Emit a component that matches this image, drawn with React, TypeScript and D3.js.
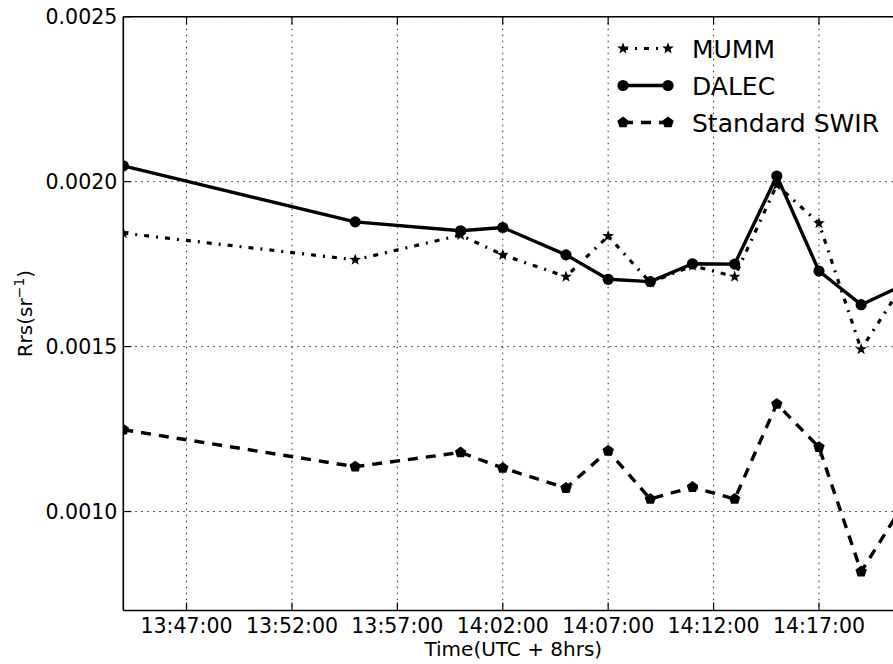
import React from "react";
import * as d3 from "d3";

// Sample times (UTC + 8hrs)
const times = [
  "13:44:00", "13:55:00", "14:00:00", "14:02:00", "14:05:00", "14:07:00", "14:09:00",
  "14:11:00", "14:13:00", "14:15:00", "14:17:00", "14:19:00", "14:21:00",
];

// Remote-sensing reflectance, sr^-1
const mumm = [
  0.001844, 0.001763, 0.001838, 0.001778, 0.001712, 0.001835, 0.001694,
  0.001745, 0.001712, 0.00199, 0.001874, 0.001492, 0.001689,
];
const dalec = [
  0.002048, 0.001878, 0.001851, 0.001861, 0.001778, 0.001704, 0.001697,
  0.001751, 0.00175, 0.002017, 0.001729, 0.001627, 0.001686,
];
const swir = [
  0.001248, 0.001136, 0.001179, 0.001132, 0.001071, 0.001184, 0.001038,
  0.001074, 0.001038, 0.001326, 0.001195, 0.000818, 0.001021,
];

const xTickLabels = ["13:47:00", "13:52:00", "13:57:00", "14:02:00", "14:07:00", "14:12:00", "14:17:00"];
const yTickValues = [0.001, 0.0015, 0.002, 0.0025];
const xDomain = ["13:44:00", "14:21:00"];
const yDomain = [0.0007, 0.0025];

const W = 893;
const H = 664;
const L = 123.3;
const R = 903.3;
const T = 16.7;
const B = 610.5;
const FONT = "'DejaVu Sans', sans-serif";

const parse = d3.timeParse("%H:%M:%S");

function polygonPath(n: number, rOut: number, rIn: number | null): string {
  const pts: [number, number][] = [];
  const count = rIn === null ? n : n * 2;
  for (let i = 0; i < count; i++) {
    const r = rIn === null ? rOut : i % 2 === 0 ? rOut : rIn;
    const a = -Math.PI / 2 + (i * 2 * Math.PI) / count;
    pts.push([r * Math.cos(a), r * Math.sin(a)]);
  }
  return "M" + pts.map((p) => p[0].toFixed(2) + "," + p[1].toFixed(2)).join("L") + "Z";
}

const starPath = polygonPath(5, 6.2, 2.5);
const pentPath = polygonPath(5, 6, null);

type Series = {
  name: string;
  values: number[];
  dash: string;
  width: number;
  marker: "star" | "circle" | "pent";
};

const series: Series[] = [
  { name: "MUMM", values: mumm, dash: "5,7,2,7", width: 3.2, marker: "star" },
  { name: "DALEC", values: dalec, dash: "none", width: 3.4, marker: "circle" },
  { name: "Standard SWIR", values: swir, dash: "10,8", width: 3.4, marker: "pent" },
];

function Marker({ kind, x, y }: { kind: string; x: number; y: number }) {
  if (kind === "circle") return <circle cx={x} cy={y} r={5.6} fill="#000" />;
  const d = kind === "star" ? starPath : pentPath;
  return <path d={d} transform={`translate(${x},${y})`} fill="#000" />;
}

export default function App() {
  const x = d3.scaleTime().domain(xDomain.map((s) => parse(s) as Date)).range([L, R]);
  const y = d3.scaleLinear().domain(yDomain).range([B, T]);
  const dates = times.map((s) => parse(s) as Date);

  const line = d3
    .line<number>()
    .x((_, i) => x(dates[i]))
    .y((v) => y(v));

  const xTicks = xTickLabels.map((s) => ({ label: s, px: x(parse(s) as Date) }));
  const fmt = d3.format(".4f");

  const legendX0 = 623;
  const legendX1 = 668;
  const legendRows = [48.5, 85.5, 122.5];

  return (
    <svg
      width={W}
      height={H}
      style={{ position: "absolute", left: 0, top: 0, background: "#fff" }}
      fontFamily={FONT}
    >
      <defs>
        <clipPath id="plot-area">
          <rect x={L} y={T} width={R - L} height={B - T} />
        </clipPath>
      </defs>
      <rect x={0} y={0} width={W} height={H} fill="#fff" />

      {/* grid */}
      <g stroke="#000" strokeWidth={1} strokeDasharray="1.5,4.5" opacity={0.85}>
        {xTicks.map((t) => (
          <line key={t.label} x1={t.px} x2={t.px} y1={T} y2={B} />
        ))}
        {yTickValues.map((v) => (
          <line key={v} x1={L} x2={R} y1={y(v)} y2={y(v)} />
        ))}
      </g>

      {/* data */}
      <g clipPath="url(#plot-area)">
        {series.map((s) => (
          <g key={s.name}>
            <path
              d={line(s.values) || ""}
              fill="none"
              stroke="#000"
              strokeWidth={s.width}
              strokeDasharray={s.dash}
              strokeLinejoin="round"
            />
            {s.values.map((v, i) => (
              <Marker key={i} kind={s.marker} x={x(dates[i])} y={y(v)} />
            ))}
          </g>
        ))}
      </g>

      {/* frame */}
      <g stroke="#000" strokeWidth={1.6} fill="none">
        <line x1={L} x2={R} y1={T} y2={T} />
        <line x1={L} x2={R} y1={B} y2={B} />
        <line x1={L} x2={L} y1={T} y2={B} />
        <line x1={R} x2={R} y1={T} y2={B} />
      </g>

      {/* ticks */}
      <g stroke="#000" strokeWidth={1.2}>
        {xTicks.map((t) => (
          <g key={t.label}>
            <line x1={t.px} x2={t.px} y1={B} y2={B - 8} />
            <line x1={t.px} x2={t.px} y1={T} y2={T + 8} />
          </g>
        ))}
        {yTickValues.map((v) => (
          <line key={v} x1={L} x2={L + 8} y1={y(v)} y2={y(v)} />
        ))}
      </g>

      {/* tick labels */}
      <g fontSize={20.5} fill="#000">
        {xTicks.map((t) => (
          <text key={t.label} x={t.px} y={633} textAnchor="middle">
            {t.label}
          </text>
        ))}
        {yTickValues.map((v) => (
          <text key={v} x={L - 6} y={y(v)} dy="0.36em" textAnchor="end">
            {fmt(v)}
          </text>
        ))}
      </g>

      {/* axis titles */}
      <text x={(L + R) / 2} y={656} textAnchor="middle" fontSize={20} fill="#000">
        Time(UTC + 8hrs)
      </text>
      <text
        transform={`translate(31.5,${(T + B) / 2}) rotate(-90)`}
        textAnchor="middle"
        fontSize={20}
        fill="#000"
      >
        Rrs(sr
        <tspan fontSize={14} dy={-8}>
          −1
        </tspan>
        <tspan dy={8}>)</tspan>
      </text>

      {/* legend */}
      <g>
        {series.map((s, i) => {
          const ly = legendRows[i];
          return (
            <g key={s.name}>
              <line
                x1={legendX0}
                x2={legendX1}
                y1={ly}
                y2={ly}
                stroke="#000"
                strokeWidth={s.width}
                strokeDasharray={s.dash}
              />
              <Marker kind={s.marker} x={legendX0} y={ly} />
              <Marker kind={s.marker} x={legendX1} y={ly} />
              <text x={692} y={ly} dy="0.36em" fontSize={25} fill="#000">
                {s.name}
              </text>
            </g>
          );
        })}
      </g>
    </svg>
  );
}
